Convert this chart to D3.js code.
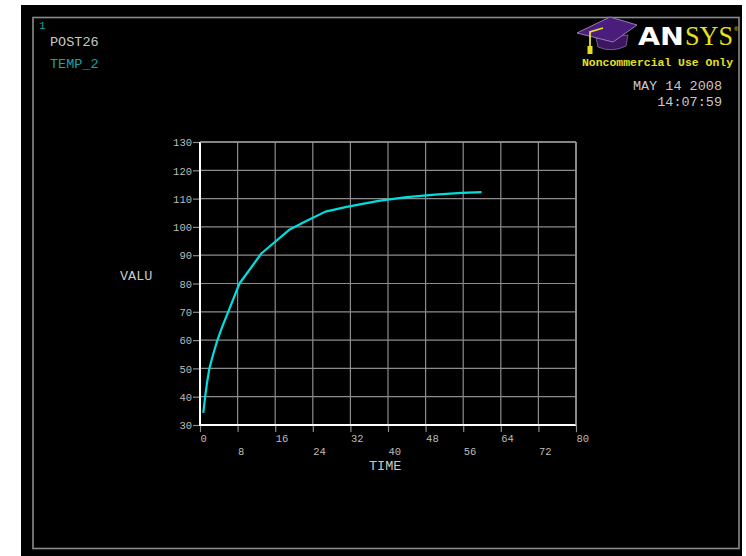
<!DOCTYPE html>
<html>
<head>
<meta charset="utf-8">
<script src="https://cdn.jsdelivr.net/npm/d3@7"></script>
<style>
  html, body { margin: 0; padding: 0; background: #ffffff; }
  svg { display: block; }
</style>
</head>
<body>
<svg id="chart" width="746" height="556"></svg>
<script>
// POST26 time-history: TEMP_2 versus TIME
const timeValues = [0.7, 1.1, 1.5, 2.0, 2.8, 3.7, 4.8, 6.0, 7.2, 8.4, 13.1, 19.1, 22.5, 26.7, 31.2, 38.3, 44.0, 50.0, 55.7, 59.9];
const tempValues = [34.3, 40.0, 45.0, 50.0, 55.0, 60.0, 65.0, 70.0, 75.0, 80.0, 90.7, 99.1, 102.0, 105.4, 107.1, 109.3, 110.5, 111.4, 112.0, 112.3];
const xTickValues = [0, 8, 16, 24, 32, 40, 48, 56, 64, 72, 80];
const yTickValues = [30, 40, 50, 60, 70, 80, 90, 100, 110, 120, 130];

const svg = d3.select("#chart");
const mono = "'Liberation Mono', 'DejaVu Sans Mono', monospace";

// graphics window
svg.append("rect").attr("x", 21).attr("y", 5).attr("width", 721).attr("height", 551).attr("fill", "#000");
svg.append("rect").attr("x", 33).attr("y", 17.5).attr("width", 706).attr("height", 531)
  .attr("fill", "none").attr("stroke", "#8a8a8a").attr("stroke-width", 1.6);

// header text
svg.append("text").attr("x", 39).attr("y", 29).attr("fill", "#1aa3a3")
  .attr("font-family", mono).attr("font-size", 11).text("1");
svg.append("text").attr("x", 50).attr("y", 46).attr("fill", "#c8c8c8")
  .attr("font-family", mono).attr("font-size", 13.5).text("POST26");
svg.append("text").attr("x", 50).attr("y", 68).attr("fill", "#1aa3a3")
  .attr("font-family", mono).attr("font-size", 13.5).text("TEMP_2");

// logo
const logo = svg.append("g");
logo.append("path").attr("d", "M596,38 L598,47 Q612,53 626,46 L628,35 Z").attr("fill", "#3d1660").attr("stroke", "#8a6aa8").attr("stroke-width", 0.8);
logo.append("path").attr("d", "M577,33 L610,17 L637,25 L613,42 Z").attr("fill", "#4a1c7c").attr("stroke", "#9a7ab8").attr("stroke-width", 1);
logo.append("path").attr("d", "M603,28 L590,32 L590,50").attr("fill", "none").attr("stroke", "#e6e020").attr("stroke-width", 1.8);
logo.append("rect").attr("x", 587.5).attr("y", 46).attr("width", 5).attr("height", 8).attr("fill", "#e6e020");
logo.append("text").attr("x", 638).attr("y", 45).attr("fill", "#ffffff")
  .attr("font-family", "'DejaVu Sans', sans-serif").attr("font-weight", "bold").attr("font-size", 25)
  .attr("textLength", 46).attr("lengthAdjust", "spacingAndGlyphs").text("AN");
logo.append("text").attr("x", 685).attr("y", 45).attr("fill", "#e6e020")
  .attr("font-family", "'Liberation Serif', 'DejaVu Serif', serif").attr("font-size", 27)
  .attr("textLength", 48).attr("lengthAdjust", "spacingAndGlyphs").text("SYS");
logo.append("text").attr("x", 734).attr("y", 31).attr("fill", "#e6e020")
  .attr("font-family", "sans-serif").attr("font-size", 6).text("®");
logo.append("text").attr("x", 582).attr("y", 66).attr("fill", "#e6e020")
  .attr("font-family", mono).attr("font-weight", "bold").attr("font-size", 11.5)
  .attr("textLength", 151).attr("lengthAdjust", "spacingAndGlyphs").text("Noncommercial Use Only");

svg.append("text").attr("x", 722).attr("y", 90).attr("text-anchor", "end").attr("fill", "#c8c8c8")
  .attr("font-family", mono).attr("font-size", 13.5).text("MAY 14 2008");
svg.append("text").attr("x", 722).attr("y", 106).attr("text-anchor", "end").attr("fill", "#c8c8c8")
  .attr("font-family", mono).attr("font-size", 13.5).text("14:07:59");

// scales
const x = d3.scaleLinear().domain([0, 80]).range([200, 576]);
const y = d3.scaleLinear().domain([30, 130]).range([425, 142]);

// grid
const grid = svg.append("g").attr("stroke", "#8c8c8c").attr("stroke-width", 1.2);
grid.selectAll(".gx").data(xTickValues.slice(1)).join("line")
  .attr("x1", d => x(d)).attr("x2", d => x(d)).attr("y1", y(130)).attr("y2", y(30));
grid.selectAll(".gy").data(yTickValues.slice(1)).join("line")
  .attr("x1", x(0)).attr("x2", x(80)).attr("y1", d => y(d)).attr("y2", d => y(d));

// y axis
const yAxis = svg.append("g").attr("transform", `translate(${x(0)},0)`)
  .call(d3.axisLeft(y).tickValues(yTickValues).tickSize(7).tickPadding(1).tickFormat(d3.format("d")));
yAxis.select(".domain").remove();
yAxis.selectAll(".tick line").attr("stroke", "#8c8c8c").attr("stroke-width", 1.2);
yAxis.selectAll(".tick text").attr("fill", "#bdbdbd").attr("font-family", mono).attr("font-size", 10.5).attr("dy", "0.36em");

// x axis with staggered labels
const xAxis = svg.append("g").attr("transform", `translate(0,${y(30)})`)
  .call(d3.axisBottom(x).tickValues(xTickValues).tickSize(7).tickFormat(d3.format("d")));
xAxis.select(".domain").remove();
xAxis.selectAll(".tick line").attr("stroke", "#8c8c8c").attr("stroke-width", 1.2);
xAxis.selectAll(".tick text")
  .attr("fill", "#bdbdbd").attr("font-family", mono).attr("font-size", 10.5)
  .attr("text-anchor", "start").attr("dy", null)
  .attr("y", (d, i) => i % 2 === 0 ? 17 : 30);

// axis lines
svg.append("line").attr("x1", x(0)).attr("x2", x(0)).attr("y1", y(130)).attr("y2", y(30) + 1)
  .attr("stroke", "#ffffff").attr("stroke-width", 2);
svg.append("line").attr("x1", x(0) - 1).attr("x2", x(80)).attr("y1", y(30)).attr("y2", y(30))
  .attr("stroke", "#ffffff").attr("stroke-width", 2);
svg.append("line").attr("x1", x(0)).attr("x2", x(80)).attr("y1", y(130)).attr("y2", y(130))
  .attr("stroke", "#9a9a9a").attr("stroke-width", 1.5);
svg.append("line").attr("x1", x(80)).attr("x2", x(80)).attr("y1", y(130)).attr("y2", y(30))
  .attr("stroke", "#9a9a9a").attr("stroke-width", 1.5);

// axis titles
svg.append("text").attr("x", 120).attr("y", 280).attr("fill", "#c8c8c8")
  .attr("font-family", mono).attr("font-size", 13.5).text("VALU");
svg.append("text").attr("x", 369).attr("y", 470).attr("fill", "#c8c8c8")
  .attr("font-family", mono).attr("font-size", 13.5).text("TIME");

// curve
const pts = timeValues.map((t, i) => [t, tempValues[i]]);
svg.append("path").datum(pts)
  .attr("d", d3.line().x(d => x(d[0])).y(d => y(d[1])))
  .attr("fill", "none").attr("stroke", "#00dede").attr("stroke-width", 2.2)
  .attr("stroke-linejoin", "round");
</script>
</body>
</html>
